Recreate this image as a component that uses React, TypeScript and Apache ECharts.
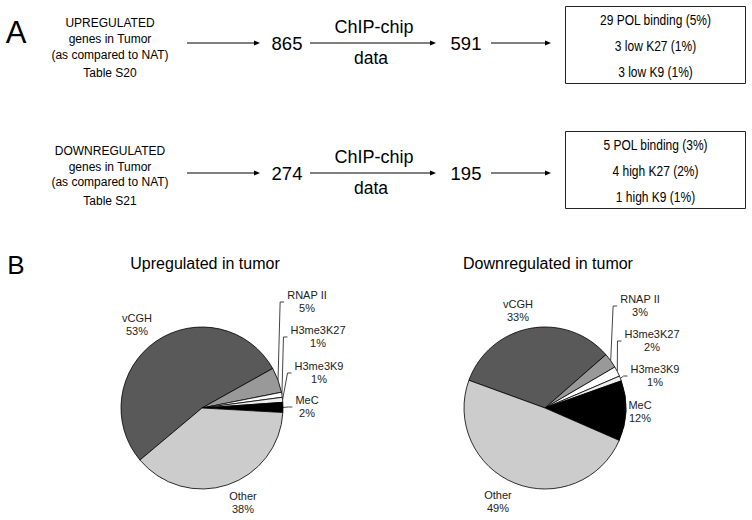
import React, { useEffect, useRef } from 'react';
import * as echarts from 'echarts';

// ---------- data ----------
const sliceNames = ['vCGH', 'RNAP II', 'H3me3K27', 'H3me3K9', 'MeC', 'Other'];
const upPercents = [53, 5, 1, 1, 2, 38];
const downPercents = [33, 3, 2, 1, 12, 49];
const pieTitles = ['Upregulated in tumor', 'Downregulated in tumor'];

const rowHeads = [
  ['UPREGULATED', 'genes in Tumor', '(as compared to NAT)', 'Table S20'],
  ['DOWNREGULATED', 'genes in Tumor', '(as compared to NAT)', 'Table S21'],
];
const geneCounts = [865, 274];
const chipCounts = [591, 195];
const stepLabels = ['ChIP-chip', 'data'];
const boxLines = [
  ['29 POL binding (5%)', '3 low K27 (1%)', '3 low K9 (1%)'],
  ['5 POL binding (3%)', '4 high K27 (2%)', '1 high K9 (1%)'],
];
const panelLetters = ['A', 'B'];

// ---------- styles / layout ----------
const FONT = '"Liberation Sans", Arial, sans-serif';
const sliceColors = ['#595959', '#999999', '#ffffff', '#eeeeee', '#000000', '#cccccc'];
const upCenter = [202, 408];
const downCenter = [545, 408];
const upLabelOffsets = [[-65, -84], [105, -107], [116, -72], [117, -36], [105, -2], [41, 94]];
const downLabelOffsets = [[-27, -98], [95, -103], [107, -68], [110, -33], [95, 3], [-47, 93]];
const upLeaders = [false, true, true, true, true, false];
const downLeaders = [false, true, true, true, false, false];

function txt(text: string, x: number, y: number, size: number, color = '#000', scaleX = 1) {
  return {
    type: 'text',
    silent: true,
    x,
    y,
    scaleX,
    style: {
      text,
      x: 0,
      y: 0,
      fill: color,
      fontSize: size,
      fontFamily: FONT,
      align: 'center',
      verticalAlign: 'middle',
      textAlign: 'center',
      textVerticalAlign: 'middle',
    },
  };
}

function arrow(x1: number, x2: number, y: number) {
  return [
    { type: 'line', silent: true, shape: { x1, y1: y, x2: x2 - 4, y2: y }, style: { stroke: '#000', lineWidth: 1 } },
    {
      type: 'polygon',
      silent: true,
      shape: { points: [[x2, y], [x2 - 6, y - 2.5], [x2 - 6, y + 2.5]] },
      style: { fill: '#000' },
    },
  ];
}

function buildGraphic() {
  const els: any[] = [];
  els.push(txt(panelLetters[0], 16, 32, 31));
  els.push(txt(panelLetters[1], 16, 265, 26));
  const baseYs = [43, 173];
  const headYs = [48, 175.5];
  const boxTops = [6, 131];
  const headOffsets = [-25, -9, 6.5, 25];
  const boxLineOffsets = [14.5, 40.5, 66];
  for (let r = 0; r < 2; r++) {
    const y = baseYs[r];
    rowHeads[r].forEach((t, i) => els.push(txt(t, 110, headYs[r] + headOffsets[i], 12)));
    els.push(...arrow(187, 260, y));
    els.push(txt(String(geneCounts[r]), 287, y, 18.5));
    els.push(...arrow(310, 436, y));
    els.push(txt(stepLabels[0], 374, y - 16, 18));
    els.push(txt(stepLabels[1], 371, y + 14.5, 17.5));
    els.push(txt(String(chipCounts[r]), 466, y, 18.5));
    els.push(...arrow(491, 551, y));
    els.push({
      type: 'rect',
      silent: true,
      shape: { x: 565.5, y: boxTops[r] + 0.5, width: 180, height: 77 },
      style: { fill: '#fff', stroke: '#222', lineWidth: 1 },
    });
    boxLines[r].forEach((t, i) => els.push(txt(t, 655.5, boxTops[r] + boxLineOffsets[i], 15, '#000', 0.8)));
  }
  els.push(txt(pieTitles[0], 205, 263, 16));
  els.push(txt(pieTitles[1], 548, 263, 16));
  return els;
}

function pieSeries(values: number[], center: number[], startAngle: number, offsets: number[][], leaders: boolean[]) {
  return {
    type: 'pie',
    center,
    radius: 81,
    startAngle,
    clockwise: true,
    silent: true,
    avoidLabelOverlap: false,
    itemStyle: { borderColor: '#000', borderWidth: 0.8 },
    emphasis: { disabled: true },
    label: {
      show: true,
      position: 'outside',
      formatter: '{b}\n{c}%',
      fontFamily: FONT,
      fontSize: 11,
      lineHeight: 13,
      color: '#222',
      align: 'center',
    },
    labelLine: { show: true, length: 6, length2: 6, lineStyle: { color: '#444', width: 1 } },
    labelLayout: (p: any) => {
      const off = offsets[p.dataIndex];
      const x = center[0] + off[0];
      const y = center[1] + off[1];
      const w = p.labelRect ? p.labelRect.width : 40;
      const left = x - w / 2;
      const s = p.labelLinePoints ? p.labelLinePoints[0] : [left - 7, y];
      return {
        x,
        y,
        align: 'center',
        verticalAlign: 'middle',
        labelLinePoints: [s, [left - 7, y + 1], [left - 3, y + 1]],
      };
    },
    data: sliceNames.map((n, i) => ({
      name: n,
      value: values[i],
      itemStyle: { color: sliceColors[i] },
      labelLine: { show: leaders[i] },
    })),
  };
}

export default function App() {
  const ref = useRef<HTMLDivElement>(null);
  useEffect(() => {
    document.body.style.margin = '0';
    const chart = echarts.init(ref.current!, null, { renderer: 'svg' });
    chart.setOption({
      animation: false,
      backgroundColor: '#ffffff',
      graphic: { elements: buildGraphic() },
      series: [
        pieSeries(upPercents, upCenter, 220, upLabelOffsets, upLeaders),
        pieSeries(downPercents, downCenter, 160, downLabelOffsets, downLeaders),
      ],
    });
    return () => chart.dispose();
  }, []);
  return <div ref={ref} style={{ width: 752, height: 520 }} />;
}
